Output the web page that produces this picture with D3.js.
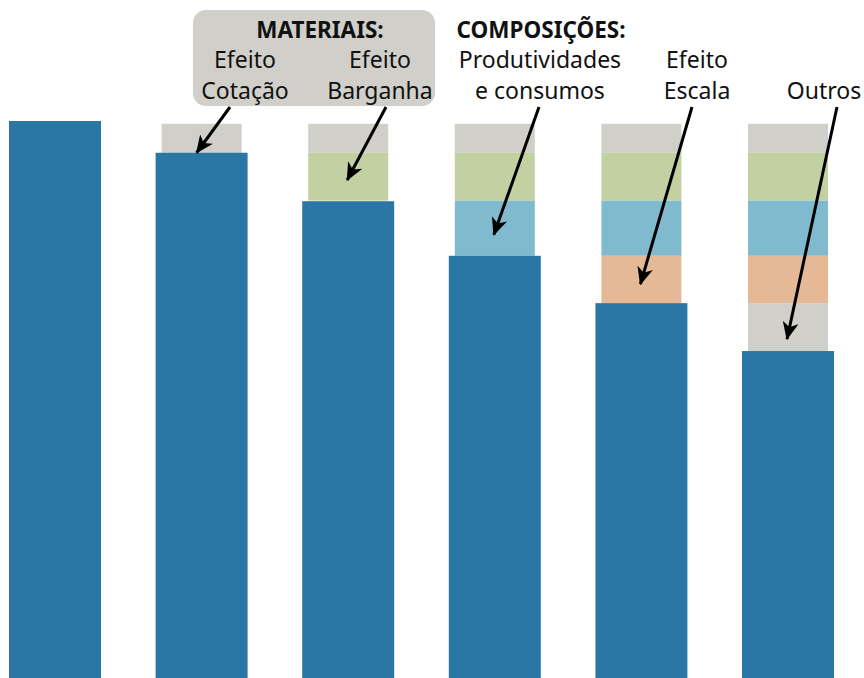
<!DOCTYPE html>
<html>
<head>
<meta charset="utf-8">
<script src="https://cdn.jsdelivr.net/npm/d3@7"></script>
<style>
  body { margin: 0; background: #fff; }
  text { font-family: "Noto Sans", "Open Sans", sans-serif; fill: #111; }
</style>
</head>
<body>
<div id="chart"></div>
<script>
// values (first bar = 100)
var steps = ["inicial", "cotacao", "barganha", "produtividade", "escala", "outros"];
var barValues = [100, 94.3, 85.6, 75.8, 67.3, 58.7];
var stackTop = 99.5;
var effectValues = [5.2, 8.6, 9.9, 8.5, 8.6];
var effectColors = ["#d0cfca", "#c3d0a1", "#80bacf", "#e6b996", "#d0cfca"];
var effectLabels = [["Efeito", "Cotação"], ["Efeito", "Barganha"], ["Produtividades", "e consumos"], ["Efeito", "Escala"], ["Outros"]];
var groupLabels = ["MATERIAIS:", "COMPOSIÇÕES:"];

var w = 864, h = 678;
var blue = "#2a76a4";

var svg = d3.select("#chart").append("svg")
  .attr("width", w)
  .attr("height", h);

var x = d3.scaleBand()
  .domain(steps)
  .range([9, 834])
  .paddingInner(0.3725)
  .paddingOuter(0);
var bw = x.bandwidth();

var y = d3.scaleLinear().domain([0, 100]).range([h, 121]);

// stacked effect segments
var segs = [];
steps.forEach(function(s, i) {
  var top = stackTop;
  for (var j = 0; j < i; j++) {
    segs.push({step: s, j: j, top: top, bottom: top - effectValues[j]});
    top -= effectValues[j];
  }
});

svg.selectAll("rect.seg")
  .data(segs)
  .enter()
  .append("rect")
  .attr("class", "seg")
  .attr("x", function(d) { return x(d.step) + 6; })
  .attr("width", bw - 12)
  .attr("y", function(d) { return y(d.top); })
  .attr("height", function(d) { return y(d.bottom) - y(d.top); })
  .attr("fill", function(d) { return effectColors[d.j]; });

svg.selectAll("rect.bar")
  .data(barValues)
  .enter()
  .append("rect")
  .attr("class", "bar")
  .attr("x", function(d, i) { return x(steps[i]); })
  .attr("width", bw)
  .attr("y", function(d) { return y(d); })
  .attr("height", function(d) { return h - y(d); })
  .attr("fill", blue);

// label box for materials
svg.append("rect")
  .attr("x", 193).attr("y", 10)
  .attr("width", 242).attr("height", 96)
  .attr("rx", 13)
  .attr("fill", "#d0cfca");

var labelX = [245, 380, 540, 697, 824];
var lineY = [38, 68, 99];

svg.append("text")
  .attr("x", 320).attr("y", lineY[0])
  .attr("text-anchor", "middle")
  .attr("font-weight", "bold")
  .attr("font-size", 22.5)
  .text(groupLabels[0]);

svg.append("text")
  .attr("x", 541).attr("y", lineY[0])
  .attr("text-anchor", "middle")
  .attr("font-weight", "bold")
  .attr("font-size", 22.5)
  .text(groupLabels[1]);

effectLabels.forEach(function(lines, i) {
  var start = lines.length == 1 ? 2 : 1;
  lines.forEach(function(t, k) {
    svg.append("text")
      .attr("x", labelX[i])
      .attr("y", lineY[start + k])
      .attr("text-anchor", "middle")
      .attr("font-size", 23)
      .text(t);
  });
});

// arrows
svg.append("defs").append("marker")
  .attr("id", "head")
  .attr("viewBox", "0 0 18 16")
  .attr("refX", 17).attr("refY", 8)
  .attr("markerWidth", 18).attr("markerHeight", 16)
  .attr("markerUnits", "userSpaceOnUse")
  .attr("orient", "auto")
  .append("path")
  .attr("d", "M0,0 L18,8 L0,16 L5,8 Z")
  .attr("fill", "#000");

var arrowStartX = [230, 386, 539, 692, 837];
var arrowFrac = [0.0, 0.43, 0.38, 0.4, 0.25];

effectValues.forEach(function(v, j) {
  var seg = segs.filter(function(d) { return d.step == steps[j + 1] && d.j == j; })[0];
  var tx = x(steps[j + 1]) + bw / 2 - (j == 0 ? 5 : 1);
  var ty = y(seg.bottom + v * arrowFrac[j]);
  svg.append("line")
    .attr("x1", arrowStartX[j]).attr("y1", 107)
    .attr("x2", tx).attr("y2", ty)
    .attr("stroke", "#000")
    .attr("stroke-width", 3)
    .attr("marker-end", "url(#head)");
});
</script>
</body>
</html>
